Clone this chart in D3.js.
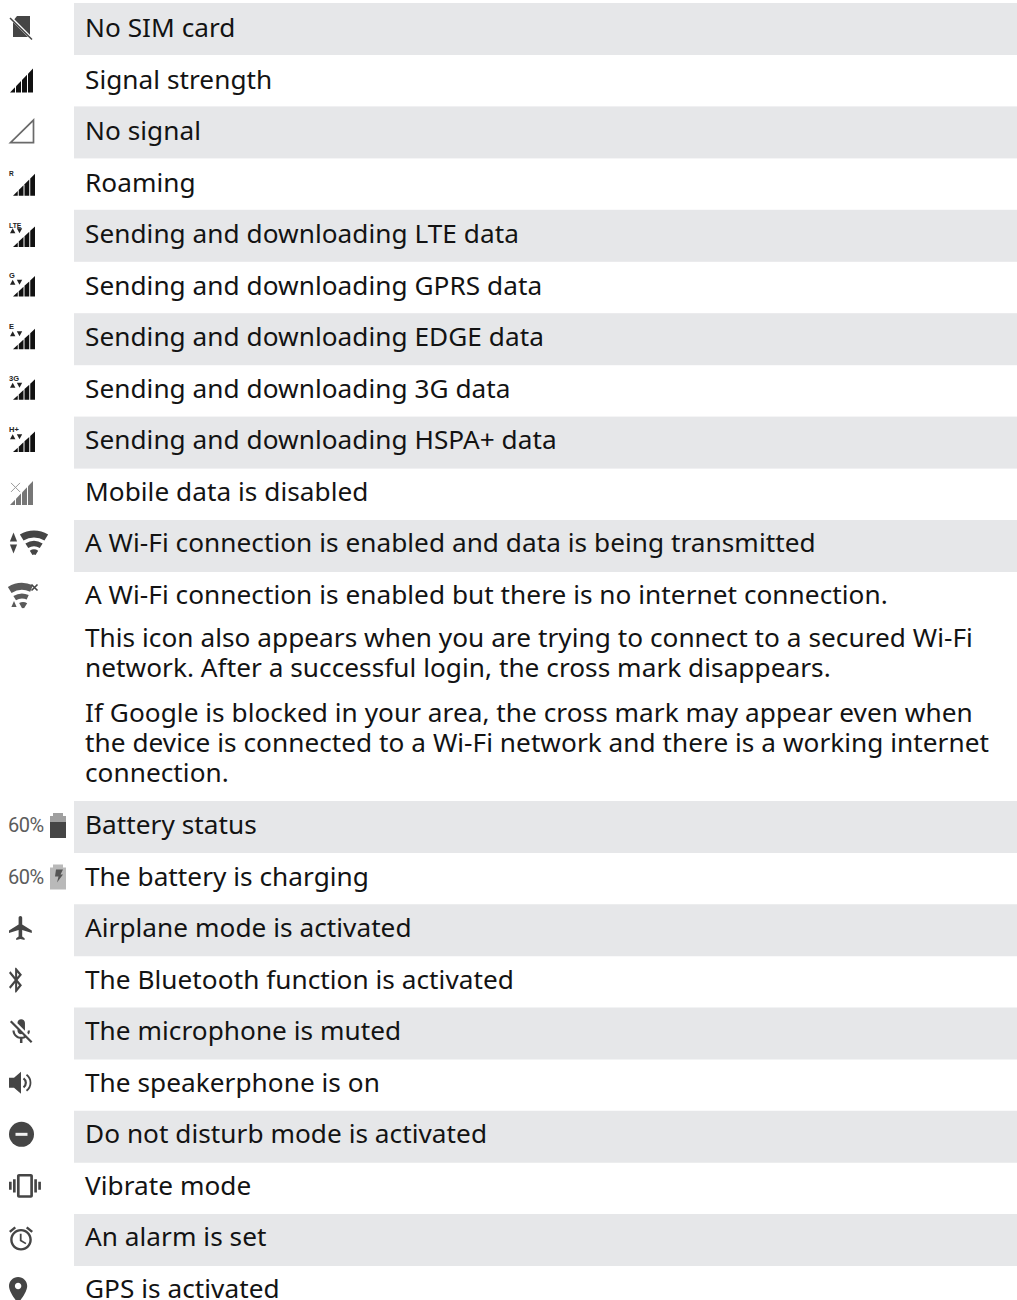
<!DOCTYPE html>
<html><head><meta charset="utf-8">
<script src="https://cdnjs.cloudflare.com/ajax/libs/d3/7.8.5/d3.min.js"></script>
<style>html,body{margin:0;padding:0;background:#fff}svg{display:block}</style>
</head><body><div id="c"></div>
<script>
const upperLabels = ["No SIM card","Signal strength","No signal","Roaming","Sending and downloading LTE data","Sending and downloading GPRS data","Sending and downloading EDGE data","Sending and downloading 3G data","Sending and downloading HSPA+ data","Mobile data is disabled","A Wi-Fi connection is enabled and data is being transmitted","A Wi-Fi connection is enabled but there is no internet connection."];
const upperIcons = ["sim","signal","nosignal","roam","LTE","G","E","3G","H+","disabled","wifi","wifix"];
const noteLines = [["This icon also appears when you are trying to connect to a secured Wi-Fi","network. After a successful login, the cross mark disappears."],["If Google is blocked in your area, the cross mark may appear even when","the device is connected to a Wi-Fi network and there is a working internet","connection."]];
const lowerLabels = ["Battery status","The battery is charging","Airplane mode is activated","The Bluetooth function is activated","The microphone is muted","The speakerphone is on","Do not disturb mode is activated","Vibrate mode","An alarm is set","GPS is activated"];
const lowerIcons = ["battery","charging","plane","bt","mic","speaker","dnd","vibrate","alarm","gps"];
const batteryText = "60%";

const W=1017,H=1300;
const svg=d3.select("#c").append("svg").attr("width",W).attr("height",H);
const yU=d3.scaleLinear().domain([0,11]).range([28,595]);
const yL=d3.scaleLinear().domain([0,9]).range([825,1289]);
const bandU=d3.scaleLinear().domain([0,10]).range([29,546]);
const bandL=d3.scaleLinear().domain([0,8]).range([827,1240]);
const rowH=52, bandX=74, textX=85, BASE=9;
const FONT="'Noto Sans',sans-serif", FS=26.2, LS=0.04, TXT="#131313", ICON="#454545";

const rows=[...upperLabels.map((t,i)=>({t,ic:upperIcons[i],y:yU(i),b:i%2==0?bandU(i):null})),
            ...lowerLabels.map((t,i)=>({t,ic:lowerIcons[i],y:yL(i),b:i%2==0?bandL(i):null}))];
svg.selectAll("rect.band").data(rows.filter(r=>r.b!==null)).join("rect").attr("class","band")
  .attr("x",bandX).attr("y",d=>d.b-rowH/2).attr("width",W-bandX).attr("height",rowH).attr("fill","#e6e7e9");
const label=(g)=>g.attr("x",textX).attr("font-family",FONT).attr("font-size",FS).attr("letter-spacing",LS).attr("fill",TXT);
svg.selectAll("text.row").data(rows).join("text").attr("class","row").call(label).attr("y",d=>d.y+BASE).text(d=>d.t);

// notes
const noteY=d3.scaleLinear().domain([0,1]).range([647,677]);
svg.selectAll("text.n1").data(noteLines[0]).join("text").attr("class","n1").call(label).attr("y",(d,i)=>noteY(i)).text(d=>d);
const noteY2=d3.scaleLinear().domain([0,1]).range([722,752]);
svg.selectAll("text.n2").data(noteLines[1]).join("text").attr("class","n2").call(label).attr("y",(d,i)=>noteY2(i)).text(d=>d);

// icon helpers
const MD={
 plane:"M21 16v-2l-8-5V3.5c0-.83-.67-1.5-1.5-1.5S10 2.67 10 3.5V9l-8 5v2l8-2.5V19l-2 1.5V22l3.5-1 3.5 1v-1.5L13 19v-5.5l8 2.5z",
 bt:"M17.71 7.71L12 2h-1v7.59L6.41 5 5 6.41 10.59 12 5 17.59 6.41 19 11 14.41V22h1l5.71-5.71-4.3-4.29 4.3-4.29zM13 5.83l1.88 1.88L13 9.59V5.83zm1.88 10.46L13 18.17v-3.76l1.88 1.88z",
 mic:"M19 11h-1.7c0 .74-.16 1.43-.43 2.05l1.23 1.23c.56-.98.9-2.09.9-3.28zm-4.02.17c0-.06.02-.11.02-.17V5c0-1.66-1.34-3-3-3S9 3.34 9 5v.18l5.98 5.99zM4.27 3L3 4.27l6.01 6.01V11c0 1.66 1.33 3 2.99 3 .22 0 .44-.03.65-.08l1.66 1.66c-.71.33-1.5.52-2.31.52-2.76 0-5.3-2.1-5.3-5.1H5c0 3.41 2.72 6.23 6 6.72V21h2v-3.28c.91-.13 1.77-.45 2.54-.9L19.73 21 21 19.73 4.27 3z",
 vibrate:"M0 15h2V9H0v6zm3 2h2V7H3v10zm19-8v6h2V9h-2zm-3 8h2V7h-2v10zM16.5 3h-9C6.67 3 6 3.67 6 4.5v15c0 .83.67 1.5 1.5 1.5h9c.83 0 1.5-.67 1.5-1.5v-15c0-.83-.67-1.5-1.5-1.5zM16 19H8V5h8v14z",
 alarm:"M22 5.72l-4.6-3.86-1.29 1.53 4.6 3.86L22 5.72zM7.88 3.39L6.6 1.86 2 5.71l1.29 1.53 4.59-3.85zM12.5 8H11v6l4.75 2.85.75-1.23-4-2.37V8zM12 4c-4.97 0-9 4.03-9 9s4.03 9 9 9c4.97 0 9-4.03 9-9s-4.03-9-9-9zm0 16c-3.87 0-7-3.13-7-7s3.13-7 7-7 7 3.13 7 7-3.13 7-7 7z",
 gps:"M12 2C8.13 2 5 5.13 5 9c0 5.25 7 13 7 13s7-7.75 7-13c0-3.87-3.13-7-7-7zm0 9.5c-1.38 0-2.5-1.12-2.5-2.5s1.12-2.5 2.5-2.5 2.5 1.12 2.5 2.5-1.12 2.5-2.5 2.5z"
};
function md(g,name,tx,ty,sx,sy=sx,fill=ICON){g.append("path").attr("d",MD[name]).attr("fill",fill).attr("transform",`translate(${tx},${ty}) scale(${sx},${sy})`);}
function poly(g,pts,fill){return g.append("path").attr("d",d3.line()(pts)+"Z").attr("fill",fill);}
function bars(g,x0,w,b,h,fill,gap=1){
  const n=4,step=(w+gap)/n;
  for(let k=0;k<n;k++){
    const l=x0+k*step,r=l+step-gap;
    poly(g,[[l,b],[l,b-h*(l-x0)/w],[r,b-h*(r-x0)/w],[r,b]],fill);
  }
}
function tri(g,cx,yBase,yApex,s,fill){poly(g,[[cx-s,yBase],[cx+s,yBase],[cx,yApex]],fill);}
function small(g,t,x,y,fs){g.append("text").attr("x",x).attr("y",y).attr("font-family","'Liberation Sans',sans-serif").attr("font-weight",700).attr("font-size",fs).attr("fill","#222").text(t);}
function fan(g,cx,cy,r0,r1,a0,a1,fill){g.append("path").attr("transform",`translate(${cx},${cy})`).attr("d",d3.arc()({innerRadius:r0,outerRadius:r1,startAngle:a0,endAngle:a1})).attr("fill",fill);}
function body(g,y,fill){poly(g,[[53,y-12],[63,y-12],[63,y-9],[66,y-9],[66,y+13],[50,y+13],[50,y-9],[53,y-9]],fill);}
const dataDrop={LTE:12.7,G:10.8,E:12,"3G":11,"H+":11.7};

const draw={
 sim(g,y){poly(g,[[17,y-12],[30,y-12],[30,y+9],[13,y+9],[13,y-7]],ICON);
   g.append("line").attr("x1",9.5).attr("y1",y-11.5).attr("x2",33).attr("y2",y+12).attr("stroke","#fff").attr("stroke-width",3);
   g.append("line").attr("x1",10).attr("y1",y-10).attr("x2",32).attr("y2",y+11.5).attr("stroke",ICON).attr("stroke-width",1.5);},
 signal(g,y){bars(g,10,23,y+13,24,"#111");},
 nosignal(g,y){poly(g,[[33.5,y-11],[33.5,y+11.5],[10.5,y+11.5]],"none").attr("stroke","#6a6a6a").attr("stroke-width",1.7);},
 roam(g,y){bars(g,13,22,y+13,22,"#111");small(g,"R",9,y-6.5,6.5);},
 data(g,y,t){bars(g,13,22,y+dataDrop[t],20.5,"#111");
   small(g,t,9,y-(t=="LTE"?6:8),t=="LTE"?6.8:7.5);
   tri(g,12.7,y-1,y-6,2.7,"#222");tri(g,19.5,y-6,y-1,2.7,"#222");},
 disabled(g,y){bars(g,10,23,y+13,24,"#777");
   g.append("path").attr("d",`M11 ${y-9}L20 ${y}M20 ${y-9}L11 ${y}`).attr("stroke","#999").attr("stroke-width",1);},
 wifi(g,y){const cy=y+14;fan(g,34,cy,20,27,-.55,.55,ICON);fan(g,34,cy,11,16.5,-.55,.55,ICON);fan(g,34,cy,3,8,-.55,.55,ICON);
   tri(g,13.5,y-2,y-11,3.6,ICON);tri(g,13.5,y+1,y+10,3.6,ICON);},
 wifix(g,y){const cy=y+15;const c="#5a5a5a";fan(g,22,cy,20,27,-.55,.42,c);fan(g,22,cy,11.5,16.5,-.55,.42,c);fan(g,23,cy,2,8,-.5,.55,c);
   tri(g,14,y+12,y+6,2.6,c);
   g.append("path").attr("d",`M31.5 ${y-10.5}L37.5 ${y-4.5}M37.5 ${y-10.5}L31.5 ${y-4.5}`).attr("stroke",ICON).attr("stroke-width",1.6);},
 pct(g,y){g.append("text").attr("x",8).attr("y",y+7).attr("font-family","Roboto,sans-serif").attr("font-size",20).attr("letter-spacing",-.45).attr("fill","#5c5c5c").text(batteryText);},
 battery(g,y){this.pct(g,y);body(g,y,"#a0a0a0");
   g.append("rect").attr("x",50).attr("y",y-3).attr("width",16).attr("height",16).attr("fill",ICON);},
 charging(g,y){this.pct(g,y);body(g,y,"#b9b9b9");
   poly(g,[[56,y-7],[63,y-7],[60.5,y-2],[63,y-2],[57,y+6],[58.5,y],[55,y]],"#555");},
 plane(g,y){md(g,"plane",6.6,y-14.4,1.2);},
 bt(g,y){md(g,"bt",3.9,y-14.5,1.02,1.24);},
 mic(g,y){md(g,"mic",6.2,y-14.5,1.25);},
 speaker(g,y){poly(g,[[9,y-5],[14,y-5],[21,y-11],[21,y+11],[14,y+5],[9,y+5]],ICON);
   g.append("path").attr("d",`M23.5 ${y-4.5}A5.5 5.5 0 0 1 23.5 ${y+4.5}`).attr("fill","none").attr("stroke",ICON).attr("stroke-width",2.2);
   g.append("path").attr("d",`M26.5 ${y-8}A10 10 0 0 1 26.5 ${y+8}`).attr("fill","none").attr("stroke",ICON).attr("stroke-width",1.8);},
 dnd(g,y){g.append("circle").attr("cx",21.5).attr("cy",y).attr("r",12.5).attr("fill",ICON);
   g.append("rect").attr("x",15.5).attr("y",y-1.5).attr("width",12).attr("height",3).attr("fill","#f0f0f0");},
 vibrate(g,y){md(g,"vibrate",9,y-16,1.33);},
 alarm(g,y){md(g,"alarm",6.6,y-13.3,1.2);},
 gps(g,y){md(g,"gps",2.5,y-14.6,1.3);}
};
rows.forEach(r=>{
  const g=svg.append("g").attr("class","icon");
  if(dataDrop[r.ic]!==undefined) draw.data(g,r.y,r.ic);
  else draw[r.ic](g,r.y);
});
</script></body></html>
